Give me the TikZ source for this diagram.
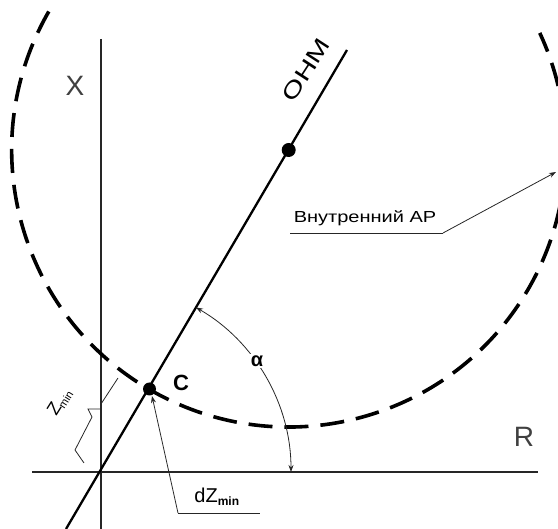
\documentclass[tikz,border=0pt]{standalone}
\usepackage{fontspec}
\setmainfont{Liberation Sans}
\usetikzlibrary{arrows.meta}
\begin{document}
\begin{tikzpicture}[x=1pt,y=-1pt,
  axis/.style={line width=1.3pt, black!85},
  ohmline/.style={line width=2.3pt},
  arcdash/.style={line width=3.6pt, dash pattern=on 24pt off 12pt, dash phase=0pt},
  leader/.style={line width=0.8pt, black!85},
  tip/.style={-{Stealth[length=7pt,width=5pt]}},
  dotnode/.style={circle, fill, inner sep=0pt, minimum size=14pt},
  axlabel/.style={font=\fontsize{28}{30}\selectfont, text=black!75, inner sep=0pt},
  lbl/.style={inner sep=0pt}]
\useasboundingbox (0,0) rectangle (558,529);
\clip (0,0) rectangle (558,529);
\coordinate (O) at (101,472);
\coordinate (M) at (288.7,150);
\coordinate (C) at (149.5,389);
\coordinate (Ltop) at (347,50);
\coordinate (Lbot) at (66,529);
\coordinate (Ytop) at (101,39);
\coordinate (Ybot) at (101,529);
\coordinate (Xl) at (32,472);
\coordinate (Xr) at (538,472);
% axes
\draw[axis] (Ytop) -- (Ybot);
\draw[axis] (Xl) -- (Xr);
% OHM line
\draw[ohmline] (Lbot) -- (Ltop);
% dashed circle (open at the top)
\draw[arcdash] (M) ++(-150:277) arc[start angle=-150, end angle=-385, radius=277];
% dots
\node[dotnode] (Mdot) at (M) {};
\node[dotnode, minimum size=13pt] (Cdot) at (C) {};
% labels
\node[axlabel] (X) at (75,86) {X};
\node[axlabel] (R) at (524,437) {R};
\node[lbl, rotate=57, font=\fontsize{22}{24}\selectfont] (OHM) at (306,70) {\scalebox{1.35}[1]{ОНМ}};
\node[lbl, font=\bfseries\fontsize{22}{24}\selectfont] (Clbl) at (181,383) {C};
% angle alpha
\draw[leader, {Stealth[length=7pt,width=5pt]}-{Stealth[length=7pt,width=5pt]}] (O) ++(-60:190) arc[start angle=-60, end angle=0, radius=190];
\node[lbl, fill=white, inner sep=2pt, font=\bfseries\fontsize{20}{22}\selectfont] (alpha) at (257,361) {α};
% inner AP label
\node[lbl, font=\fontsize{16}{18}\selectfont] (ap) at (365,218) {\scalebox{1.25}[1]{Внутренний АР}};
\coordinate (apL) at (290,233);
\coordinate (apR) at (443,233);
\coordinate (apT) at (556,172);
\draw[leader] (apL) -- (apR);
\draw[leader, tip] (apR) -- (apT);
% dZmin
\node[lbl, font=\fontsize{20}{22}\selectfont] (dz) at (217,497) {dZ\textsubscript{\bfseries\fontsize{12}{12}\selectfont min}};
\coordinate (dzL) at (178,513);
\coordinate (dzR) at (260,513);
\draw[leader] (dzL) -- (dzR);
\draw[leader, tip] (dzL) -- (152,396);
% Zmin
\node[lbl, rotate=58, font=\fontsize{18}{20}\selectfont] (zm) at (60,402) {Z\textsubscript{\fontsize{11}{11}\selectfont min}};
\coordinate (z1) at (101,404);
\coordinate (z2) at (118,378);
\draw[leader] (z1) -- (z2);
\coordinate (b1) at (101,409);
\coordinate (b2) at (88,409);
\coordinate (b3) at (92,417);
\coordinate (b4) at (75,450);
\coordinate (b5) at (84,463);
\draw[leader] (b1) -- (b2) -- (b3) -- (b4) -- (b5);
\end{tikzpicture}
\end{document}
